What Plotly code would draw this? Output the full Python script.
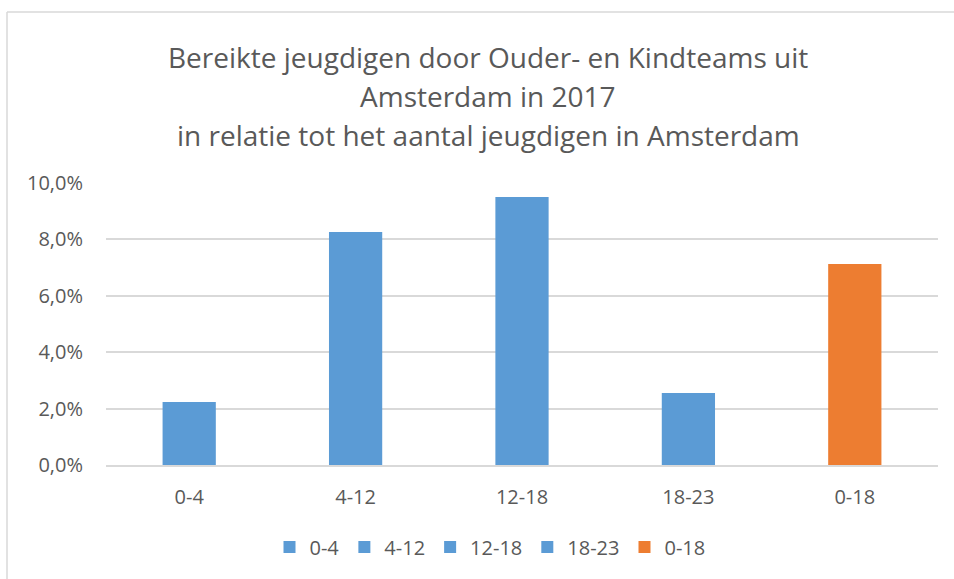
import plotly.graph_objects as go

categories = ["0-4", "4-12", "12-18", "18-23", "0-18"]
values = [0.0223, 0.0826, 0.0950, 0.0255, 0.0713]
colors = ["#5B9BD5", "#5B9BD5", "#5B9BD5", "#5B9BD5", "#ED7D31"]
title_lines = ["Bereikte jeugdigen door Ouder- en Kindteams uit",
               "Amsterdam in 2017",
               "in relatie tot het aantal jeugdigen in Amsterdam"]

W, H = 954, 579
L, R, T, B = 106, 16, 183, 114
pw, ph = W - L - R, H - T - B

fig = go.Figure()
for cat, val, col in zip(categories, values, colors):
    fig.add_trace(go.Bar(x=[cat], y=[val], name=cat, marker=dict(color=col, line=dict(width=0)),
                         width=0.32, hoverinfo="x+y"))

def px_x(p):
    return (p - L) / pw

def px_y(p):
    return (H - B - p) / ph

title_centers = [57, 96, 135]
annotations = [
    dict(text=t, xref="paper", yref="paper", x=px_x(488), y=px_y(yc), xanchor="center",
         yanchor="middle", showarrow=False, font=dict(family="Open Sans", size=28, color="#595959"))
    for t, yc in zip(title_lines, title_centers)
]

fig.update_layout(
    width=W, height=H,
    margin=dict(l=L, r=R, t=T, b=B),
    paper_bgcolor="white", plot_bgcolor="white",
    barmode="overlay",
    separators=",.",
    font=dict(family="Open Sans", color="#595959", size=20),
    annotations=annotations,
    xaxis=dict(categoryorder="array", categoryarray=categories, showgrid=False,
               showline=True, linecolor="#D9D9D9", linewidth=1.5, ticks="",
               ticklabelstandoff=13,
               tickfont=dict(size=20, color="#595959")),
    yaxis=dict(range=[0, 0.1], dtick=0.02, tickformat=".1%", showgrid=True,
               gridcolor="#D9D9D9", gridwidth=1.5, zeroline=False, showline=False,
               ticks="", ticklabelstandoff=22, tickfont=dict(size=20, color="#595959")),
    legend=dict(orientation="h", x=px_x(490), xanchor="center", y=px_y(547), yanchor="middle",
                font=dict(size=20, color="#595959"), itemwidth=30, traceorder="normal"),
    shapes=[
        dict(type="line", xref="paper", yref="paper", x0=px_x(7), x1=px_x(7),
             y0=px_y(12), y1=px_y(579), line=dict(color="#D9D9D9", width=1.5)),
        dict(type="line", xref="paper", yref="paper", x0=px_x(7), x1=px_x(954),
             y0=px_y(12), y1=px_y(12), line=dict(color="#D9D9D9", width=1.5)),
    ],
    showlegend=True,
)

fig.write_html("out.html", config={"displayModeBar": False},
               post_script="document.body.style.margin='0';document.body.style.overflow='hidden';")
